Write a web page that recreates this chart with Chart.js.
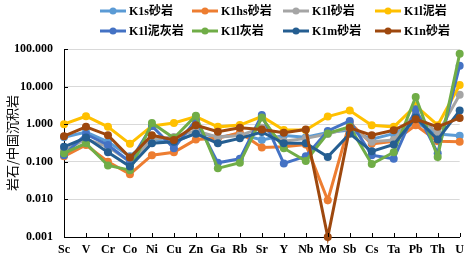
<!DOCTYPE html>
<html>
<head>
<meta charset="utf-8">
<script src="https://cdn.jsdelivr.net/npm/chart.js@4"></script>
<style>
  html, body { margin: 0; padding: 0; background: #fff; }
</style>
</head>
<body>
<canvas id="SpiderChart" width="470" height="261"></canvas>
<script>
// element categories and normalised values (rock / China sedimentary rock)
const elements = ['Sc', 'V', 'Cr', 'Co', 'Ni', 'Cu', 'Zn', 'Ga', 'Rb', 'Sr', 'Y', 'Nb', 'Mo', 'Sb', 'Cs', 'Ta', 'Pb', 'Th', 'U'];
const seriesNames = ['K1s砂岩', 'K1hs砂岩', 'K1l砂岩', 'K1l泥岩', 'K1l泥灰岩', 'K1l灰岩', 'K1m砂岩', 'K1n砂岩'];
const k1sSandstone = [0.45, 0.62, 0.34, 0.14, 0.40, 0.32, 0.60, 0.45, 0.55, 0.38, 0.50, 0.45, 0.60, 0.70, 0.40, 0.56, 1.10, 0.55, 0.49];
const k1hsSandstone = [0.14, 0.28, 0.10, 0.047, 0.15, 0.18, 0.39, 0.42, 0.60, 0.24, 0.25, 0.29, 0.0095, 1.10, 0.30, 0.35, 0.94, 0.35, 0.34];
const k1lSandstone = [0.20, 0.40, 0.25, 0.10, 0.40, 0.46, 0.67, 0.45, 0.50, 0.80, 0.35, 0.42, 0.55, 0.80, 0.34, 0.38, 2.00, 0.56, 6.1];
const k1lMudstone = [1.00, 1.63, 0.85, 0.30, 0.90, 1.08, 1.60, 0.85, 0.95, 1.60, 0.70, 0.70, 1.60, 2.30, 0.94, 0.85, 3.10, 0.94, 11.0];
const k1lMarl = [0.15, 0.54, 0.28, 0.10, 0.90, 0.23, 1.30, 0.094, 0.12, 1.75, 0.09, 0.14, 0.66, 1.22, 0.15, 0.12, 2.50, 0.17, 36.0];
const k1lLimestone = [0.17, 0.31, 0.08, 0.06, 1.08, 0.43, 1.68, 0.067, 0.094, 1.50, 0.23, 0.105, 0.57, 0.85, 0.087, 0.18, 5.30, 0.135, 75.0];
const k1mSandstone = [0.25, 0.44, 0.18, 0.075, 0.31, 0.34, 0.56, 0.31, 0.42, 0.62, 0.31, 0.31, 0.135, 0.56, 0.19, 0.29, 1.50, 0.39, 2.30];
const k1nSandstone = [0.48, 0.85, 0.51, 0.13, 0.51, 0.38, 0.94, 0.63, 0.80, 0.72, 0.59, 0.72, 0.001, 0.80, 0.51, 0.69, 1.36, 0.85, 1.47];
const yTicks = [0.001, 0.01, 0.1, 1, 10, 100];

const allValues = [k1sSandstone, k1hsSandstone, k1lSandstone, k1lMudstone, k1lMarl, k1lLimestone, k1mSandstone, k1nSandstone];
const colors = ['#5B9BD5', '#ED7D31', '#A5A5A5', '#FFC000', '#4472C4', '#70AD47', '#255E91', '#9E480E'];

const serif = '"Liberation Serif", "Noto Sans CJK SC", serif';

// legend laid out in a 4 x 2 grid like the original
const gridLegend = {
    id: 'gridLegend',
    afterDraw(chart) {
        const ctx = chart.ctx;
        const colX = [100, 192, 283, 375];
        const rowY = [11, 31];
        ctx.save();
        chart.data.datasets.forEach((ds, i) => {
            const x = colX[i % 4];
            const y = rowY[Math.floor(i / 4)];
            ctx.strokeStyle = ds.borderColor;
            ctx.lineWidth = 3;
            ctx.beginPath();
            ctx.moveTo(x, y);
            ctx.lineTo(x + 26, y);
            ctx.stroke();
            ctx.fillStyle = ds.borderColor;
            ctx.beginPath();
            ctx.arc(x + 13, y, 3.5, 0, Math.PI * 2);
            ctx.fill();
            ctx.fillStyle = '#000';
            ctx.font = 'bold 12px ' + serif;
            ctx.textBaseline = 'middle';
            ctx.fillText(ds.label, x + 29, y + 1);
        });
        ctx.restore();
    }
};

// short tick marks pointing into the plot
const innerTicks = {
    id: 'innerTicks',
    afterDatasetsDraw(chart) {
        const ctx = chart.ctx;
        const area = chart.chartArea;
        const xs = chart.scales.x;
        const ys = chart.scales.y;
        ctx.save();
        ctx.strokeStyle = '#000';
        ctx.lineWidth = 1;
        ctx.beginPath();
        yTicks.forEach(v => {
            const py = Math.round(ys.getPixelForValue(v)) + 0.5;
            ctx.moveTo(area.left, py);
            ctx.lineTo(area.left + 4, py);
        });
        elements.forEach((e, i) => {
            const px = Math.round(xs.getPixelForValue(i)) + 0.5;
            ctx.moveTo(px, area.bottom);
            ctx.lineTo(px, area.bottom - 4);
        });
        ctx.stroke();
        ctx.restore();
    }
};

const ctx = document.getElementById('SpiderChart').getContext('2d');
const SpiderChart = new Chart(ctx, {
    type: 'line',
    data: {
        labels: elements,
        datasets: seriesNames.map((name, i) => ({
            label: name,
            data: allValues[i],
            borderColor: colors[i],
            backgroundColor: colors[i],
            borderWidth: 3,
            pointRadius: 4,
            pointBorderWidth: 0,
            pointBackgroundColor: colors[i],
            tension: 0,
            fill: false,
            clip: false,
            order: seriesNames.length - i
        }))
    },
    options: {
        responsive: false,
        animation: false,
        layout: {
            padding: { top: 49, right: 8, left: 0, bottom: 0 }
        },
        plugins: {
            legend: { display: false },
            tooltip: { enabled: false }
        },
        scales: {
            x: {
                grid: { display: false, drawTicks: false },
                border: { color: '#000', width: 1 },
                ticks: {
                    color: '#000',
                    padding: 6,
                    maxRotation: 0,
                    autoSkip: false,
                    font: { family: serif, size: 12, weight: 'bold' }
                },
                afterFit(scale) { scale.height = 24; }
            },
            y: {
                type: 'logarithmic',
                min: 0.001,
                max: 100,
                grid: { color: '#D9D9D9', lineWidth: 1, drawTicks: false },
                border: { color: '#000', width: 1 },
                afterBuildTicks(scale) {
                    scale.ticks = yTicks.map(v => ({ value: v, major: true }));
                },
                ticks: {
                    color: '#000',
                    padding: 11,
                    autoSkip: false,
                    font: { family: serif, size: 12, weight: 'bold' },
                    callback: v => Number(v).toFixed(3)
                },
                title: {
                    display: true,
                    text: '岩石/中国沉积岩',
                    color: '#000',
                    padding: { top: 4, bottom: 0 },
                    font: { family: '"Noto Sans CJK SC", sans-serif', size: 13 }
                },
                afterFit(scale) { scale.width = 64; }
            }
        }
    },
    plugins: [gridLegend, innerTicks]
});
</script>
</body>
</html>
